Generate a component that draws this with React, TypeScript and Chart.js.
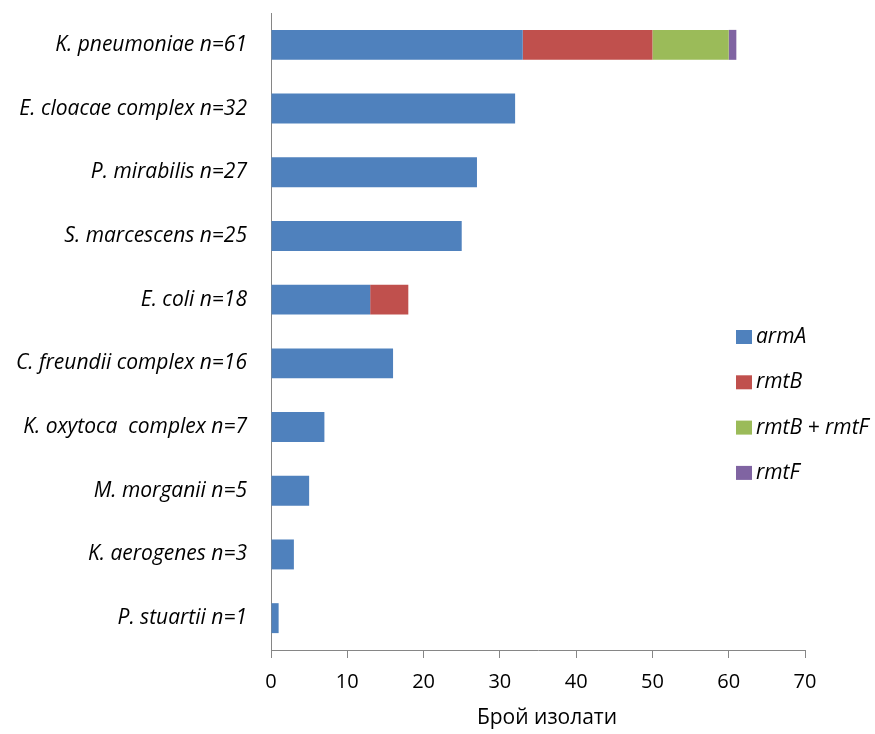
import React, { useEffect, useRef } from "react";
import { Chart, registerables } from "chart.js";

Chart.register(...registerables);

// Isolates per species, split by methyltransferase gene
const categories = [
  "K. pneumoniae n=61",
  "E. cloacae complex n=32",
  "P. mirabilis n=27",
  "S. marcescens n=25",
  "E. coli n=18",
  "C. freundii complex n=16",
  "K. oxytoca  complex n=7",
  "M. morganii n=5",
  "K. aerogenes n=3",
  "P. stuartii n=1",
];

const armA = [33, 32, 27, 25, 13, 16, 7, 5, 3, 1];
const rmtB = [17, 0, 0, 0, 5, 0, 0, 0, 0, 0];
const rmtBrmtF = [10, 0, 0, 0, 0, 0, 0, 0, 0, 0];
const rmtF = [1, 0, 0, 0, 0, 0, 0, 0, 0, 0];

const seriesNames = ["armA", "rmtB", "rmtB + rmtF", "rmtF"];
const seriesColors = ["#4F81BD", "#C0504D", "#9BBB59", "#8064A2"];

const xTicks = [0, 10, 20, 30, 40, 50, 60, 70];
const xTitle = "Брой изолати";

const FONT = "'Open Sans', 'Liberation Sans', sans-serif";
const AXIS_GRAY = "#868686";

// Legend drawn over the right part of the plot, stacked vertically
const sideLegend = {
  id: "sideLegend",
  afterDraw(chart: Chart) {
    const ctx = chart.ctx;
    ctx.save();
    ctx.font = `italic 21px ${FONT}`;
    ctx.textBaseline = "middle";
    ctx.textAlign = "left";
    chart.data.datasets.forEach((ds, i) => {
      const cy = 337 + i * 45.3;
      ctx.fillStyle = ds.backgroundColor as string;
      ctx.fillRect(736, cy - 7, 16, 14);
      ctx.fillStyle = "#000";
      ctx.fillText(ds.label as string, 756, cy);
    });
    ctx.restore();
  },
};

// Value-axis title under the tick labels
const axisTitle = {
  id: "axisTitle",
  afterDraw(chart: Chart) {
    const ctx = chart.ctx;
    ctx.save();
    ctx.font = `21px ${FONT}`;
    ctx.fillStyle = "#000";
    ctx.textAlign = "center";
    ctx.textBaseline = "middle";
    ctx.fillText(xTitle, 547, 718);
    ctx.restore();
  },
};

export default function App() {
  const canvasRef = useRef<HTMLCanvasElement | null>(null);

  useEffect(() => {
    if (!canvasRef.current) return;
    Chart.defaults.font.family = FONT;
    const values = [armA, rmtB, rmtBrmtF, rmtF];
    const chart = new Chart(canvasRef.current, {
      type: "bar",
      data: {
        labels: categories,
        datasets: values.map((data, i) => ({
          label: seriesNames[i],
          data,
          backgroundColor: seriesColors[i],
          borderWidth: 0,
          barPercentage: 0.47,
          categoryPercentage: 1,
        })),
      },
      options: {
        indexAxis: "y",
        animation: false,
        responsive: false,
        maintainAspectRatio: false,
        layout: { padding: { top: 13, right: 70, left: 0, bottom: 0 } },
        plugins: {
          legend: { display: false },
          tooltip: { enabled: false },
        },
        scales: {
          x: {
            stacked: true,
            min: 0,
            max: 70,
            afterBuildTicks: (scale: any) => {
              scale.ticks = xTicks.map((v) => ({ value: v }));
            },
            afterFit: (scale: any) => {
              scale.height = 84;
            },
            grid: {
              display: true,
              drawOnChartArea: false,
              drawTicks: true,
              tickLength: 8,
              color: AXIS_GRAY,
            },
            border: { display: true, color: AXIS_GRAY, width: 1 },
            ticks: {
              color: "#000",
              font: { size: 20 },
              padding: 12,
              maxRotation: 0,
            },
          },
          y: {
            stacked: true,
            afterFit: (scale: any) => {
              scale.width = 271;
              scale.paddingTop = 0;
              scale.paddingBottom = 0;
            },
            grid: { display: false, drawTicks: false },
            border: { display: true, color: AXIS_GRAY, width: 1 },
            ticks: {
              color: "#000",
              font: { size: 21, style: "italic" },
              padding: 24,
            },
          },
        },
      },
      plugins: [sideLegend, axisTitle],
    });
    return () => chart.destroy();
  }, []);

  return (
    <div style={{ position: "absolute", left: 0, top: 0, width: 875, height: 734, background: "#fff" }}>
      <canvas ref={canvasRef} width={875} height={734} />
    </div>
  );
}
